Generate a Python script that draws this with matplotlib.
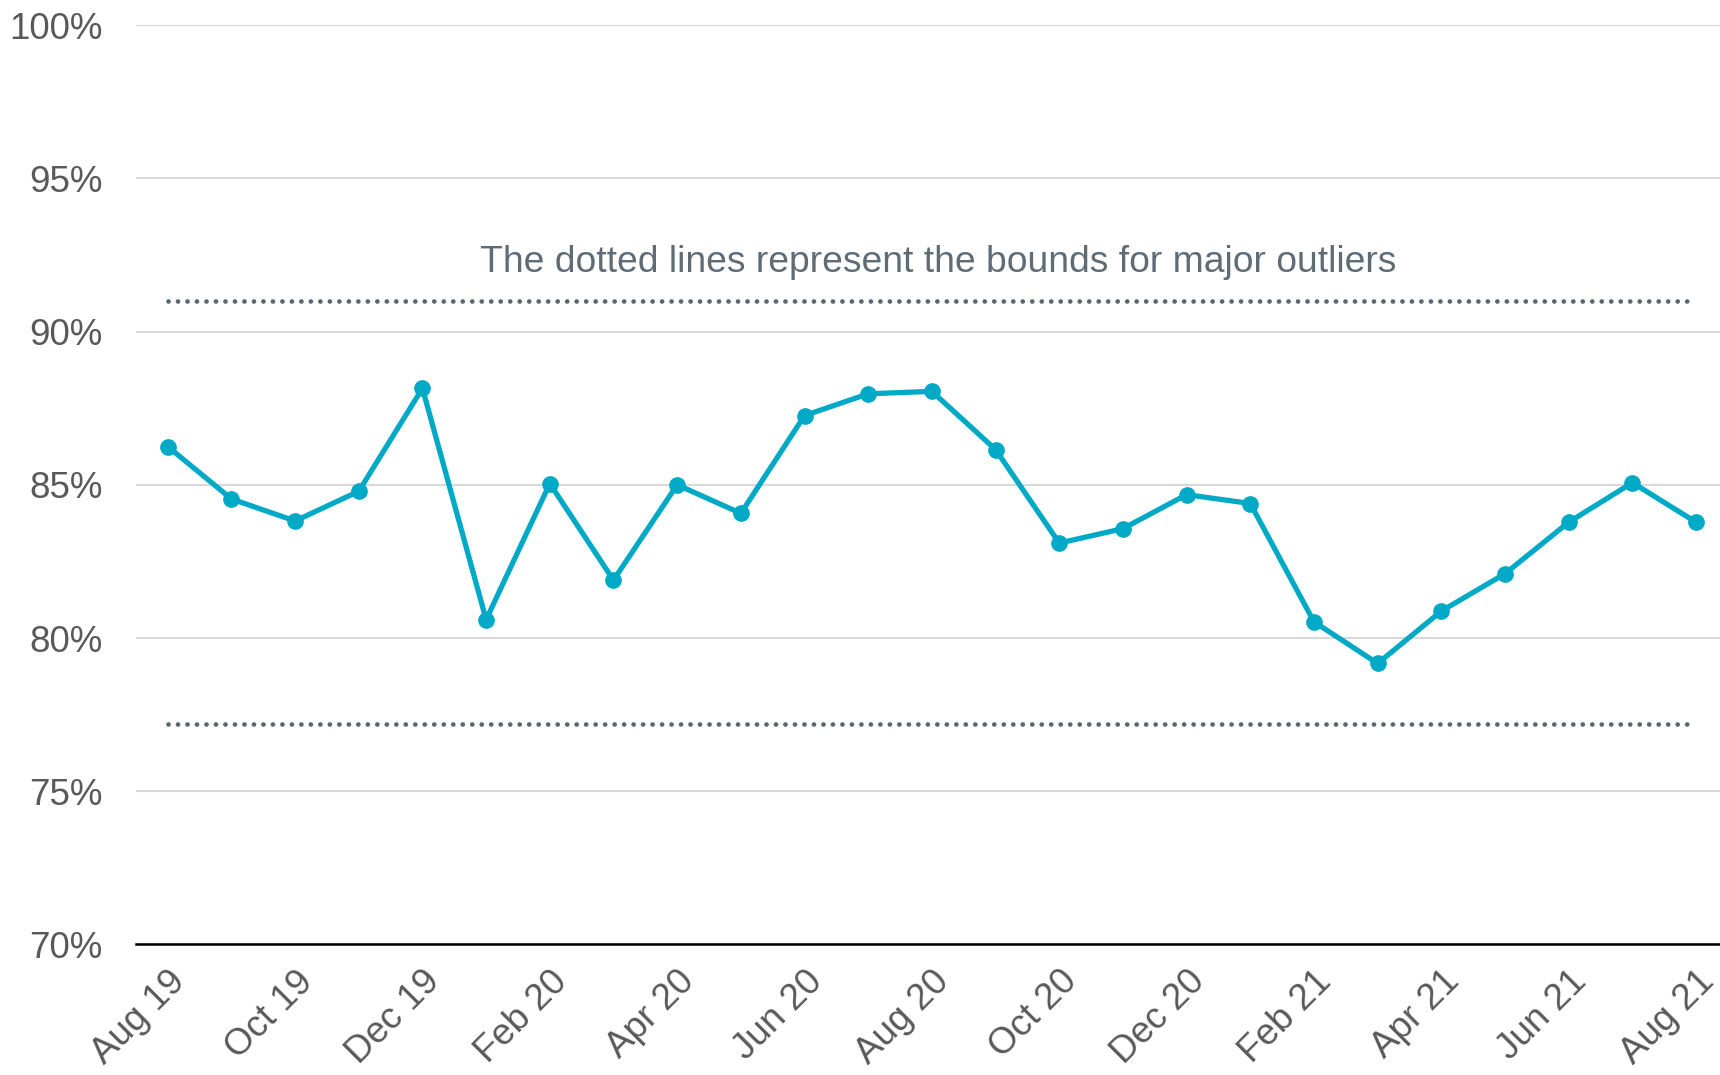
import matplotlib
matplotlib.use("Agg")
import matplotlib.pyplot as plt
from matplotlib.ticker import FuncFormatter

plt.rcParams['font.family'] = ['Liberation Sans', 'DejaVu Sans']

# monthly values, Aug 19 .. Aug 21
months = ['Aug 19', 'Sep 19', 'Oct 19', 'Nov 19', 'Dec 19', 'Jan 20', 'Feb 20', 'Mar 20',
          'Apr 20', 'May 20', 'Jun 20', 'Jul 20', 'Aug 20', 'Sep 20', 'Oct 20', 'Nov 20',
          'Dec 20', 'Jan 21', 'Feb 21', 'Mar 21', 'Apr 21', 'May 21', 'Jun 21', 'Jul 21',
          'Aug 21']
values = [86.25, 84.54, 83.82, 84.79, 88.15, 80.6, 85.04, 81.89,
          85.0, 84.07, 87.26, 87.97, 88.05, 86.15, 83.1, 83.57,
          84.68, 84.39, 80.53, 79.17, 80.88, 82.1, 83.78, 85.07,
          83.78]
upper_bound = 91.0
lower_bound = 77.2
note = 'The dotted lines represent the bounds for major outliers'

line_color = '#00aac7'
text_gray = '#595959'
dot_gray = '#5b6670'

fig = plt.figure(figsize=(17.2, 10.75), dpi=100)
ax = fig.add_axes([0.079, 0.1214, 0.9256, 0.8552])

x = list(range(len(months)))
ax.plot(x, values, color=line_color, linewidth=3.8, marker='o', markersize=11,
        solid_joinstyle='round', zorder=3)

# outlier bounds
ax.plot([x[0], x[-1] - 0.05], [upper_bound] * 2, color=dot_gray, linewidth=3.4,
        linestyle=(0, (0.01, 2.0)), dash_capstyle='round', zorder=2)
ax.plot([x[0], x[-1] - 0.05], [lower_bound] * 2, color=dot_gray, linewidth=3.4,
        linestyle=(0, (0.01, 2.0)), dash_capstyle='round', zorder=2)
ax.text(12.1, 92.25, note, ha='center', va='center', fontsize=26.8, color='#5f6b75')

ax.set_xlim(-0.5, 24.5)
ax.set_ylim(70, 100)
ax.set_yticks(range(70, 101, 5))
ax.yaxis.set_major_formatter(FuncFormatter(lambda v, p: f'{v:.0f}%'))
ax.set_xticks(x[::2])
ax.set_xticklabels(months[::2], rotation=45, ha='right', rotation_mode='anchor')

ax.grid(axis='y', color='#d9d9d9', linewidth=1.5, zorder=0)
ax.set_axisbelow(True)
for s in ['top', 'right', 'left']:
    ax.spines[s].set_visible(False)
ax.spines['bottom'].set_color('black')
ax.spines['bottom'].set_linewidth(1.8)
ax.tick_params(axis='both', length=0, colors=text_gray)
ax.tick_params(axis='y', pad=24, labelsize=26.5)
ax.tick_params(axis='x', pad=14, labelsize=26.5)

fig.savefig('out.png', dpi=100)
